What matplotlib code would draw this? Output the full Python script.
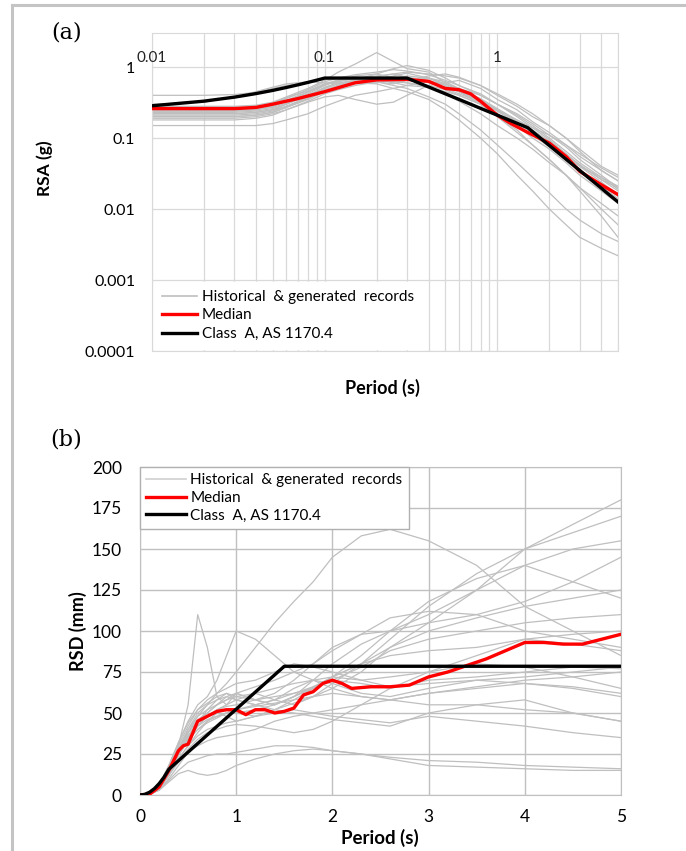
import matplotlib
matplotlib.use("Agg")
import matplotlib.pyplot as plt
from matplotlib.lines import Line2D
import numpy as np

plt.rcParams['font.family'] = ['Lato', 'DejaVu Sans']

# ---------------- (a) response spectral acceleration ----------------
period_a = [0.01, 0.02, 0.03, 0.04, 0.05, 0.06, 0.08, 0.1, 0.12, 0.15, 0.2, 0.25,
            0.3, 0.4, 0.5, 0.6, 0.8, 1.0, 1.3, 1.6, 2.0, 2.5, 3.0, 4.0, 5.0]
records_a = [
    [0.22, 0.22, 0.22, 0.23, 0.25, 0.28, 0.36, 0.45, 0.55, 0.62, 0.70, 0.66, 0.72, 0.60, 0.52, 0.45, 0.30, 0.22, 0.15, 0.10, 0.070, 0.045, 0.030, 0.018, 0.012],
    [0.25, 0.25, 0.25, 0.26, 0.29, 0.34, 0.45, 0.58, 0.62, 0.75, 0.80, 0.70, 0.65, 0.70, 0.62, 0.50, 0.35, 0.25, 0.17, 0.12, 0.085, 0.055, 0.040, 0.024, 0.016],
    [0.40, 0.40, 0.41, 0.44, 0.50, 0.55, 0.62, 0.66, 0.70, 0.72, 0.68, 0.62, 0.60, 0.55, 0.48, 0.40, 0.30, 0.20, 0.12, 0.08, 0.050, 0.030, 0.018, 0.008, 0.004],
    [0.15, 0.15, 0.15, 0.15, 0.16, 0.18, 0.22, 0.28, 0.33, 0.40, 0.45, 0.50, 0.55, 0.62, 0.58, 0.50, 0.40, 0.30, 0.22, 0.16, 0.11, 0.075, 0.050, 0.030, 0.020],
    [0.28, 0.28, 0.28, 0.29, 0.32, 0.38, 0.50, 0.65, 0.85, 1.10, 1.60, 1.20, 0.95, 0.85, 0.60, 0.45, 0.30, 0.20, 0.13, 0.08, 0.050, 0.030, 0.020, 0.010, 0.006],
    [0.20, 0.20, 0.20, 0.21, 0.23, 0.27, 0.35, 0.45, 0.55, 0.60, 0.58, 0.50, 0.45, 0.35, 0.25, 0.18, 0.10, 0.06, 0.03, 0.018, 0.010, 0.006, 0.004, 0.0028, 0.0022],
    [0.24, 0.24, 0.24, 0.25, 0.28, 0.33, 0.42, 0.55, 0.65, 0.70, 0.62, 0.55, 0.50, 0.38, 0.30, 0.22, 0.13, 0.08, 0.045, 0.028, 0.017, 0.010, 0.007, 0.0045, 0.0035],
    [0.18, 0.18, 0.18, 0.19, 0.21, 0.25, 0.32, 0.38, 0.40, 0.35, 0.30, 0.32, 0.40, 0.55, 0.60, 0.65, 0.50, 0.35, 0.25, 0.17, 0.12, 0.08, 0.055, 0.035, 0.025],
    [0.22, 0.22, 0.22, 0.23, 0.25, 0.30, 0.40, 0.52, 0.60, 0.65, 0.72, 0.80, 0.85, 0.80, 0.75, 0.70, 0.55, 0.40, 0.28, 0.20, 0.15, 0.10, 0.065, 0.035, 0.025],
    [0.30, 0.32, 0.38, 0.45, 0.52, 0.58, 0.62, 0.60, 0.58, 0.62, 0.66, 0.60, 0.55, 0.52, 0.45, 0.40, 0.30, 0.22, 0.15, 0.11, 0.075, 0.050, 0.035, 0.022, 0.015],
    [0.26, 0.26, 0.26, 0.27, 0.30, 0.36, 0.48, 0.62, 0.70, 0.78, 0.85, 0.92, 0.88, 0.78, 0.65, 0.55, 0.42, 0.30, 0.20, 0.14, 0.095, 0.060, 0.042, 0.026, 0.018],
    [0.21, 0.21, 0.21, 0.22, 0.24, 0.28, 0.38, 0.50, 0.58, 0.66, 0.60, 0.68, 0.75, 0.70, 0.58, 0.48, 0.36, 0.26, 0.18, 0.13, 0.090, 0.060, 0.040, 0.028, 0.021],
    [0.23, 0.23, 0.23, 0.24, 0.26, 0.30, 0.40, 0.50, 0.62, 0.70, 0.75, 0.80, 0.72, 0.65, 0.55, 0.45, 0.33, 0.24, 0.18, 0.14, 0.11, 0.080, 0.060, 0.038, 0.028],
    [0.19, 0.19, 0.19, 0.20, 0.22, 0.25, 0.33, 0.42, 0.48, 0.55, 0.62, 0.58, 0.65, 0.75, 0.80, 0.72, 0.55, 0.42, 0.30, 0.22, 0.15, 0.10, 0.070, 0.040, 0.030],
    [0.27, 0.27, 0.27, 0.28, 0.31, 0.37, 0.46, 0.58, 0.66, 0.72, 0.68, 0.75, 0.82, 0.70, 0.55, 0.46, 0.34, 0.25, 0.17, 0.12, 0.080, 0.052, 0.036, 0.021, 0.014],
    [0.24, 0.24, 0.24, 0.25, 0.27, 0.31, 0.40, 0.48, 0.55, 0.62, 0.70, 0.65, 0.60, 0.52, 0.42, 0.33, 0.22, 0.15, 0.10, 0.070, 0.045, 0.030, 0.020, 0.012, 0.008],
    [0.20, 0.20, 0.20, 0.21, 0.23, 0.27, 0.36, 0.46, 0.55, 0.66, 0.80, 0.95, 1.05, 0.90, 0.70, 0.55, 0.40, 0.30, 0.21, 0.15, 0.10, 0.065, 0.045, 0.028, 0.019],
    [0.25, 0.25, 0.25, 0.26, 0.28, 0.33, 0.44, 0.56, 0.64, 0.68, 0.66, 0.62, 0.70, 0.62, 0.50, 0.42, 0.32, 0.24, 0.16, 0.12, 0.085, 0.058, 0.042, 0.026, 0.020],
]

period_med_a = [0.01, 0.02, 0.03, 0.04, 0.05, 0.07, 0.1, 0.15, 0.2, 0.3, 0.4, 0.5,
                0.6, 0.7, 0.8, 1.0, 1.2, 1.5, 2.0, 2.5, 3.0, 4.0, 5.0]
median_a = [0.26, 0.26, 0.26, 0.27, 0.30, 0.36, 0.45, 0.60, 0.66, 0.67, 0.63, 0.50,
            0.48, 0.42, 0.33, 0.21, 0.16, 0.12, 0.085, 0.055, 0.034, 0.022, 0.016]

period_code_a = [0.01, 0.02, 0.03, 0.04, 0.05, 0.06, 0.07, 0.08, 0.09, 0.1, 0.2, 0.3,
                 0.4, 0.5, 0.6, 0.7, 0.8, 0.9, 1.0, 1.2, 1.5, 2.0, 2.5, 3.0, 3.5, 4.0, 4.5, 5.0]
code_a = [0.285, 0.331, 0.377, 0.423, 0.469, 0.516, 0.562, 0.608, 0.654, 0.70, 0.70, 0.70,
          0.524, 0.42, 0.35, 0.30, 0.262, 0.233, 0.21, 0.175, 0.14, 0.0787, 0.0503, 0.035,
          0.0257, 0.0197, 0.0155, 0.0126]

# ---------------- (b) response spectral displacement ----------------
period_b = [0, 0.1, 0.2, 0.3, 0.4, 0.5, 0.6, 0.7, 0.8, 0.9, 1.0, 1.2, 1.4, 1.6, 1.8,
            2.0, 2.3, 2.6, 3.0, 3.5, 4.0, 4.5, 5.0]
records_b = [
    [0, 1, 5, 15, 30, 55, 110, 90, 60, 55, 62, 58, 55, 60, 66, 70, 68, 65, 70, 72, 75, 78, 77],
    [0, 1, 5, 14, 25, 38, 48, 55, 62, 68, 75, 90, 105, 118, 130, 145, 158, 162, 155, 140, 115, 100, 85],
    [0, 0.5, 4, 12, 22, 30, 38, 45, 50, 48, 45, 48, 52, 56, 60, 65, 75, 90, 105, 125, 150, 165, 180],
    [0, 0.5, 4, 13, 25, 35, 42, 48, 52, 55, 58, 62, 58, 55, 60, 68, 80, 95, 115, 135, 150, 160, 170],
    [0, 0.5, 4, 12, 24, 33, 40, 44, 47, 50, 50, 52, 55, 60, 65, 72, 85, 100, 118, 132, 140, 130, 120],
    [0, 1, 5, 15, 28, 38, 45, 50, 55, 60, 62, 58, 55, 60, 70, 80, 92, 100, 110, 125, 140, 150, 155],
    [0, 1, 5, 14, 26, 36, 44, 52, 58, 62, 60, 58, 62, 70, 80, 90, 98, 100, 105, 110, 118, 130, 145],
    [0, 1, 6, 18, 32, 45, 55, 60, 70, 85, 100, 95, 85, 75, 70, 65, 60, 58, 55, 55, 52, 50, 45],
    [0, 1, 5, 15, 28, 40, 50, 55, 58, 60, 58, 55, 58, 65, 70, 68, 62, 60, 65, 70, 68, 65, 60],
    [0, 1, 5, 14, 25, 35, 42, 48, 50, 52, 50, 48, 50, 52, 50, 48, 46, 44, 48, 45, 42, 38, 35],
    [0, 0.5, 3, 8, 13, 15, 13, 12, 13, 15, 18, 22, 25, 27, 28, 27, 25, 22, 18, 17, 16, 15, 15],
    [0, 0.5, 3, 9, 15, 20, 22, 24, 25, 25, 26, 28, 30, 30, 29, 27, 25, 23, 21, 20, 18, 17, 16],
    [0, 1, 5, 15, 28, 40, 48, 52, 55, 58, 60, 62, 65, 68, 70, 72, 70, 66, 68, 70, 72, 75, 78],
    [0, 1, 5, 15, 27, 36, 42, 46, 48, 50, 52, 55, 58, 62, 66, 72, 80, 90, 100, 108, 115, 120, 125],
    [0, 0.5, 4, 12, 22, 30, 36, 40, 42, 44, 45, 48, 52, 58, 65, 72, 80, 85, 88, 90, 95, 98, 100],
    [0, 1, 5, 16, 30, 42, 52, 58, 62, 65, 68, 70, 75, 80, 78, 75, 70, 72, 75, 80, 78, 72, 65],
    [0, 1, 6, 18, 32, 44, 52, 56, 60, 62, 58, 55, 52, 50, 48, 46, 44, 42, 50, 55, 58, 50, 45],
    [0, 1, 5, 14, 26, 36, 44, 48, 52, 54, 55, 58, 60, 62, 65, 70, 78, 88, 95, 100, 105, 108, 110],
    [0, 1, 5, 15, 27, 38, 46, 50, 55, 58, 62, 66, 70, 75, 80, 88, 98, 108, 112, 110, 100, 95, 90],
    [0, 1, 5, 14, 25, 34, 40, 45, 48, 50, 52, 54, 56, 58, 60, 62, 60, 58, 62, 66, 70, 72, 75],
    [0, 0.5, 3, 10, 18, 26, 30, 33, 35, 36, 37, 40, 45, 48, 50, 52, 55, 58, 62, 65, 68, 66, 62],
    [0, 0.5, 4, 12, 20, 28, 34, 38, 40, 42, 43, 42, 40, 38, 40, 45, 55, 65, 75, 85, 95, 92, 88],
]

period_med_b = [0, 0.1, 0.2, 0.3, 0.4, 0.45, 0.5, 0.6, 0.7, 0.8, 0.9, 1.0, 1.1, 1.2, 1.3,
                1.4, 1.5, 1.6, 1.7, 1.8, 1.9, 2.0, 2.1, 2.2, 2.4, 2.6, 2.8, 3.0, 3.2, 3.4,
                3.6, 3.8, 4.0, 4.2, 4.4, 4.6, 4.8, 5.0]
median_b = [0, 0.5, 5, 15, 27, 30, 31, 45, 48, 51, 52, 52, 49, 52, 52, 50, 51, 53, 61, 63,
            68, 70, 68, 65, 66, 66, 67, 72, 75, 79, 83, 88, 93, 93, 92, 92, 95, 98]

period_code_b = [0, 0.05, 0.1, 0.15, 0.2, 0.25, 0.3, 1.5, 5.0]
code_b = [0, 0.4, 1.7, 3.9, 7.0, 10.9, 15.7, 78.5, 78.5]

legend_labels = ['Historical  & generated  records', 'Median', 'Class  A, AS 1170.4']

GRAY = '#bfbfbf'
GRID = '#d9d9d9'

fig = plt.figure(figsize=(6.86, 8.51), dpi=100)

# outer frame lines (top and left)
fig.add_artist(Line2D([12 / 686, 1.0], [1 - 5 / 851, 1 - 5 / 851], transform=fig.transFigure, color='#c4c4c4', lw=2.2))
fig.add_artist(Line2D([12 / 686, 12 / 686], [0, 1 - 5 / 851], transform=fig.transFigure, color='#c4c4c4', lw=2.2))

# ---- panel (a)
ax1 = fig.add_axes([152 / 686, 1 - 351 / 851, 466 / 686, 318 / 851])
ax1.set_xscale('log')
ax1.set_yscale('log')
for rec in records_a:
    ax1.plot(period_a, rec, color=GRAY, lw=0.9, zorder=2)
ax1.plot(period_med_a, median_a, color='#ff0000', lw=2.4, zorder=4)
ax1.plot(period_code_a, code_a, color='black', lw=2.4, zorder=5)
ax1.set_xlim(0.01, 5)
ax1.set_ylim(1e-4, 10 ** 0.48)
ax1.set_yticks([1e-4, 1e-3, 1e-2, 1e-1, 1])
ax1.set_yticklabels(['0.0001', '0.001', '0.01', '0.1', '1'], fontsize=11.5)
ax1.set_xticks([0.01, 0.1, 1])
ax1.set_xticks([m * d for d in (0.01, 0.1, 1) for m in range(2, 10) if m * d <= 5], minor=True)
ax1.set_xticklabels([])
ax1.yaxis.set_minor_locator(matplotlib.ticker.NullLocator())
ax1.tick_params(length=0, which='both', pad=12)
ax1.grid(True, which='both', axis='x', color=GRID, lw=0.9)
ax1.grid(True, which='major', axis='y', color=GRID, lw=0.9)
ax1.set_axisbelow(True)
for sp in ax1.spines.values():
    sp.set_color(GRID)
for xv, lab in zip([0.01, 0.1, 1], ['0.01', '0.1', '1']):
    ax1.text(xv, 1.08, lab, ha='center', va='bottom', fontsize=11, color='#222222')
leg1 = ax1.legend([Line2D([], [], color=GRAY, lw=1.2), Line2D([], [], color='#ff0000', lw=2.4),
                   Line2D([], [], color='black', lw=2.4)],
                  legend_labels,
                  loc='lower left', bbox_to_anchor=(0.0, 0.0), fontsize=11, frameon=True,
                  handlelength=2.3, handletextpad=0.3, labelspacing=0.3, borderpad=0.5,
                  borderaxespad=0.15)
leg1.get_frame().set_edgecolor('white')
leg1.get_frame().set_facecolor('white')
leg1.get_frame().set_alpha(1)
leg1.get_frame().set_boxstyle('square', pad=0)

fig.text(67 / 686, 1 - 33 / 851, '(a)', ha='center', va='center', fontsize=16, family='DejaVu Serif')
fig.text(45 / 686, 1 - 168 / 851, 'RSA (g)', ha='center', va='center', rotation=90, fontsize=12.5, fontweight='bold')
fig.text(382 / 686, 1 - 388 / 851, 'Period (s)', ha='center', va='center', fontsize=13, fontweight='bold')

# ---- panel (b)
ax2 = fig.add_axes([140 / 686, 1 - 795 / 851, 481 / 686, 328 / 851])
for rec in records_b:
    ax2.plot(period_b, rec, color=GRAY, lw=0.9, zorder=2)
ax2.plot(period_med_b, median_b, color='#ff0000', lw=2.4, zorder=4)
ax2.plot(period_code_b, code_b, color='black', lw=2.4, zorder=5)
ax2.set_xlim(0, 5)
ax2.set_ylim(0, 200)
ax2.set_xticks(range(0, 6))
ax2.set_yticks(range(0, 201, 25))
ax2.tick_params(axis='y', length=0, labelsize=12.5, pad=13)
ax2.tick_params(axis='x', length=0, labelsize=12.5, pad=10)
ax2.grid(True, color='#c0c0c0', lw=1.0)
ax2.set_axisbelow(True)
for sp in ax2.spines.values():
    sp.set_color('#c0c0c0')
leg2 = ax2.legend([Line2D([], [], color='#d0d0d0', lw=1.2), Line2D([], [], color='#ff0000', lw=2.4),
                   Line2D([], [], color='black', lw=2.4)],
                  legend_labels,
                  loc='upper left', bbox_to_anchor=(0.0, 1.0), fontsize=11, frameon=True,
                  handlelength=2.6, handletextpad=0.3, labelspacing=0.25, borderpad=0.4,
                  borderaxespad=0.0, fancybox=False)
leg2.get_frame().set_edgecolor('#b0b0b0')
leg2.get_frame().set_alpha(1)
leg2.get_frame().set_linewidth(1.0)

fig.text(66 / 686, 1 - 440 / 851, '(b)', ha='center', va='center', fontsize=16, family='DejaVu Serif')
fig.text(78 / 686, 1 - 631 / 851, 'RSD (mm)', ha='center', va='center', rotation=90, fontsize=13, fontweight='bold')
fig.text(380 / 686, 1 - 838 / 851, 'Period (s)', ha='center', va='center', fontsize=13.5, fontweight='bold')

fig.savefig('out.png', dpi=100)
